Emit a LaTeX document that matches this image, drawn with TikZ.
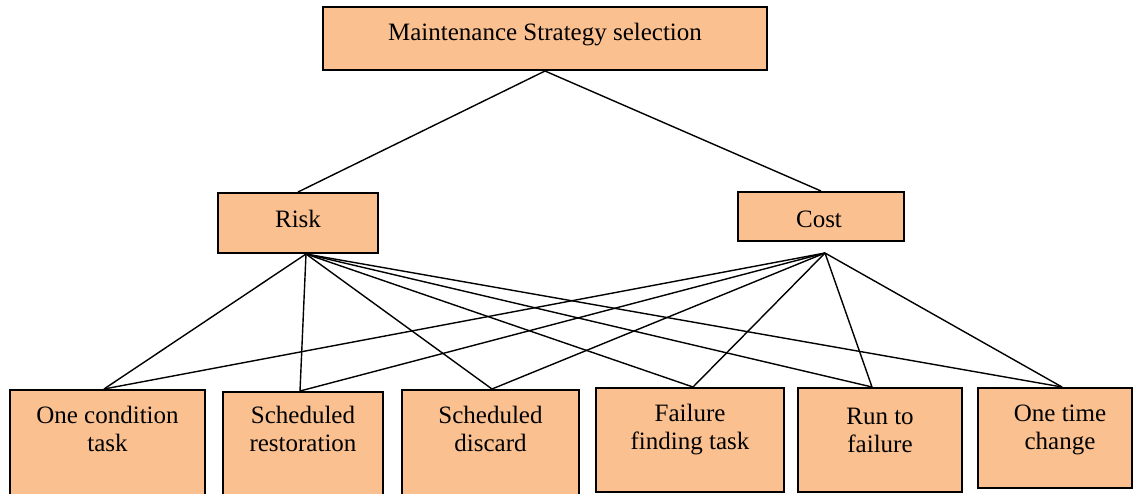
\documentclass[tikz,border=0pt]{standalone}
\usepackage{fontspec}
\setmainfont{Liberation Serif}
\usepackage{tikz}
\definecolor{boxorange}{RGB}{250,192,144}
\tikzset{
	stratbox/.style={draw=black,line width=1pt,fill=boxorange,inner sep=0pt},
	boxtext/.style={inner sep=0pt,align=center,font=\fontsize{12.5}{14}\selectfont},
	link/.style={line width=0.7pt}
}

\begin{document}
\begin{tikzpicture}[x=0.5pt,y=-0.5pt]
			\useasboundingbox (0,0) rectangle (1133,493);
			\clip (0,0) rectangle (1133,493);
			% top and middle level
			\node[stratbox,minimum width=222pt,minimum height=31.5pt] (goal) at (545,38.5) {};
			\node[boxtext] (goaltext) at (545,35) {Maintenance Strategy selection};
			\node[stratbox,minimum width=80pt,minimum height=30pt] (risk) at (298,223) {};
			\node[boxtext] (risktext) at (298,219) {Risk};
			\node[stratbox,minimum width=83pt,minimum height=24.5pt] (cost) at (821,216.5) {};
			\node[boxtext] (costtext) at (819,219) {Cost};
			% bottom level
			\node[stratbox,anchor=north,minimum width=97.5pt,minimum height=60pt] (b1) at (107.5,389) {};
			\node[stratbox,anchor=north,minimum width=80pt,minimum height=60pt] (b2) at (303,391) {};
			\node[stratbox,anchor=north,minimum width=88.5pt,minimum height=60pt] (b3) at (490.5,389) {};
			\node[stratbox,anchor=north,minimum width=94pt,minimum height=52pt] (b4) at (690,387) {};
			\node[stratbox,anchor=north,minimum width=82pt,minimum height=52pt] (b5) at (880,387) {};
			\node[stratbox,anchor=north,minimum width=77pt,minimum height=50pt] (b6) at (1055,387) {};
			\node[boxtext] (b1text) at (107.5,429) {One condition\\task};
			\node[boxtext] (b2text) at (303,429) {Scheduled\\restoration};
			\node[boxtext] (b3text) at (490.5,429) {Scheduled\\discard};
			\node[boxtext] (b4text) at (690,430) {Failure\\finding task};
			\node[boxtext] (b5text) at (880,430) {Run to\\failure};
			\node[boxtext] (b6text) at (1060,430) {One time\\change};
			% connectors
			\coordinate (riskfoot) at ([xshift=4pt]risk.south);
			\coordinate (costfoot) at ([xshift=2pt,yshift=-5.5pt]cost.south);
			\draw[link] (goal.south) -- (risk.north);
			\draw[link] (goal.south) -- (cost.north);
			\foreach \b/\dx in {b1/-1.75,b2/-1.5,b3/0.75,b4/1.5,b5/-4,b6/3.5}{
				\draw[link] (riskfoot) -- ([xshift=\dx pt]\b.north);
				\draw[link] (costfoot) -- ([xshift=\dx pt]\b.north);
			}
		\end{tikzpicture}
\end{document}
